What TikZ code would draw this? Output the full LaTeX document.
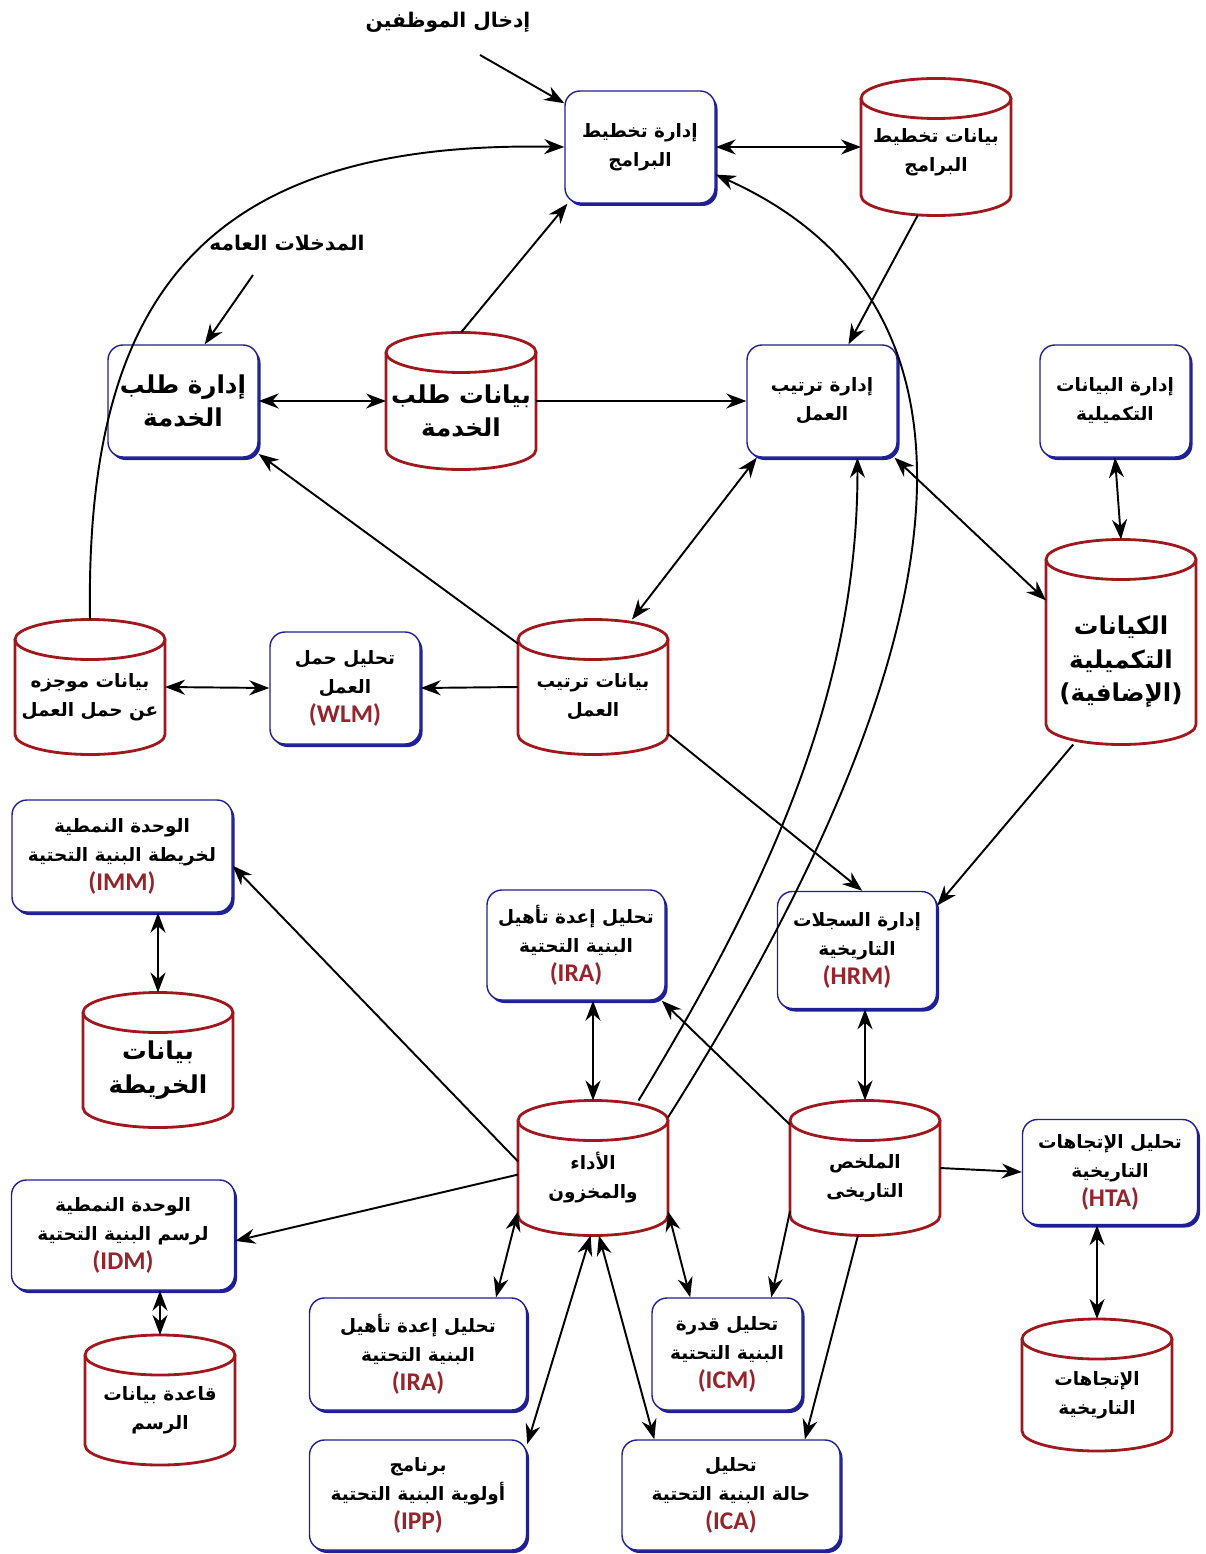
\documentclass[tikz,border=0pt]{standalone}
\usepackage{fontspec}
\usepackage{tikz}
\usetikzlibrary{shapes}
\usetikzlibrary{arrows.meta}
\usetikzlibrary{shadows}
\newfontfamily\arabicfont[Script=Arabic]{DejaVu Sans}
\newfontfamily\abkfont{Carlito}
\TeXXeTstate=1
\definecolor{procblue}{RGB}{32,32,150}
\definecolor{storered}{RGB}{160,24,30}
\definecolor{abkred}{RGB}{150,36,44}
\newcommand{\abk}[1]{{\abkfont\bfseries\fontsize{14.5}{16.5}\selectfont\color{abkred}#1}}
\tikzset{
  proc/.style={rectangle, rounded corners=3mm, draw=procblue, line width=0.8pt, fill=white,
    minimum width=30mm, minimum height=22.4mm, align=center, inner sep=1mm,
    drop shadow={shadow xshift=0.5mm, shadow yshift=-0.6mm, fill=procblue, opacity=1},
    font=\arabicfont\bfseries\fontsize{10.5}{16.5}\selectfont},
  store/.style={rectangle, minimum width=30mm, minimum height=27mm, inner sep=0pt, outer sep=0pt},
  storetext/.style={align=center, yshift=-2mm, inner sep=0pt,
    font=\arabicfont\bfseries\fontsize{10.5}{16.5}\selectfont},
  cylline/.style={draw=storered, line width=1.6pt},
  big/.style={font=\arabicfont\bfseries\fontsize{14}{19}\selectfont},
  lbl/.style={font=\arabicfont\bfseries\fontsize{11.5}{15}\selectfont},
  arr/.style={line width=1.1pt, -{Stealth[length=4mm, width=3mm]}},
  dbl/.style={line width=1.1pt, {Stealth[length=4mm, width=3mm]}-{Stealth[length=4mm, width=3mm]}},
}
\begin{document}
\begin{tikzpicture}[x=0.2mm, y=-0.2mm]
  \useasboundingbox (0,0) rectangle (1205,1554);
  \node[lbl] (staffin) at (448,22) {\beginR إدخال الموظفين\endR};
  \node[lbl] (genin) at (287,243) {\beginR المدخلات العامه\endR};
  \coordinate (staffarrow) at (480,55);
  \coordinate (genarrow) at (253,275);

  \node[proc] (ppm) at (640,147) {\beginR إدارة تخطيط\endR\\\beginR البرامج\endR};
  \node[store, minimum height=27.4mm, label={[storetext, yshift=1mm]center:{\beginR بيانات تخطيط\endR\\\beginR البرامج\endR}}] (ppd) at (936,147) {};
  \node[proc, big] (srm) at (183,401) {\beginR إدارة طلب\endR\\\beginR الخدمة\endR};
  \node[store, minimum height=27.4mm, label={[storetext, big]center:{\beginR بيانات طلب\endR\\\beginR الخدمة\endR}}] (srd) at (461,401) {};
  \node[proc] (ws) at (822,401) {\beginR إدارة ترتيب\endR\\\beginR العمل\endR};
  \node[proc] (supm) at (1115,401) {\beginR إدارة البيانات\endR\\\beginR التكميلية\endR};
  \node[store, minimum height=41mm, label={[storetext, big, yshift=-2mm]center:{\beginR الكيانات\endR\\\beginR التكميلية\endR\\\beginR (الإضافية)\endR}}] (supe) at (1121,642) {};
  \node[store, label={[storetext]center:{\beginR بيانات ترتيب\endR\\\beginR العمل\endR}}] (wsd) at (593,687) {};
  \node[proc] (wlm) at (345,688) {\beginR تحليل حمل\endR\\\beginR العمل\endR\\\abk{(WLM)}};
  \node[store, label={[storetext]center:{\beginR بيانات موجزه\endR\\\beginR عن حمل العمل\endR}}] (wls) at (90,687) {};

  \node[proc, minimum width=44mm] (imm) at (122,856) {\beginR الوحدة النمطية\endR\\\beginR لخريطة البنية التحتية\endR\\\abk{(IMM)}};
  \node[store, label={[storetext, big]center:{\beginR بيانات\endR\\\beginR الخريطة\endR}}] (mapd) at (158,1060) {};
  \node[proc, minimum width=35.6mm, minimum height=22mm] (ira) at (576,945) {\beginR تحليل إعدة تأهيل\endR\\\beginR البنية التحتية\endR\\\abk{(IRA)}};
  \node[proc, minimum width=31.8mm, minimum height=23.4mm] (hrm) at (857,950) {\beginR إدارة السجلات\endR\\\beginR التاريخية\endR\\\abk{(HRM)}};
  \node[store, label={[storetext]center:{\beginR الأداء\endR\\\beginR والمخزون\endR}}] (perf) at (593,1168) {};
  \node[store, label={[storetext]center:{\beginR الملخص\endR\\\beginR التاريخى\endR}}] (hists) at (865,1168) {};
  \node[proc, minimum width=35mm, minimum height=21mm] (hta) at (1110,1172) {\beginR تحليل الإتجاهات\endR\\\beginR التاريخية\endR\\\abk{(HTA)}};
  \node[store, minimum height=26.4mm, label={[storetext]center:{\beginR الإتجاهات\endR\\\beginR التاريخية\endR}}] (htd) at (1097,1385) {};
  \node[proc, minimum width=44.6mm, minimum height=22mm] (idm) at (123,1235) {\beginR الوحدة النمطية\endR\\\beginR لرسم  البنية التحتية\endR\\\abk{(IDM)}};
  \node[store, minimum height=26mm, label={[storetext]center:{\beginR قاعدة بيانات\endR\\\beginR الرسم\endR}}] (drawdb) at (160,1400) {};
  \node[proc, minimum width=43.4mm] (ira2) at (418,1354) {\beginR تحليل إعدة تأهيل\endR\\\beginR البنية التحتية\endR\\\abk{(IRA)}};
  \node[proc] (icm) at (727,1354) {\beginR تحليل قدرة\endR\\\beginR البنية التحتية\endR\\\abk{(ICM)}};
  \node[proc, minimum width=43.4mm, minimum height=22mm] (ipp) at (418,1495) {\beginR برنامج\endR\\\beginR أولوية البنية التحتية\endR\\\abk{(IPP)}};
  \node[proc, minimum width=43.6mm, minimum height=22mm] (ica) at (731,1495) {\beginR تحليل\endR\\\beginR حالة البنية التحتية\endR\\\abk{(ICA)}};

  \foreach \c in {ppd,srd,supe,wsd,wls,mapd,perf,hists,htd,drawdb}{
    \draw[cylline] ([yshift=-4mm]\c.north west) -- ([yshift=4mm]\c.south west)
      arc[start angle=180, end angle=360, x radius=15mm, y radius=4mm]
      -- ([yshift=-4mm]\c.north east);
    \draw[cylline] ([yshift=-4mm]\c.north) ellipse [x radius=15mm, y radius=4mm];
  }

  \draw[arr] (staffarrow) -- (ppm.150);
  \draw[dbl] (ppm.east) -- (ppd.west);
  \draw[arr] (srd.north) -- (ppm.-142);
  \draw[arr] (ppd.-105) -- (ws.65);
  \draw[arr] (genarrow) -- (srm.69);
  \draw[dbl] (srm.east) -- (srd.west);
  \draw[arr] (srd.east) -- (ws.west);
  \draw[arr] (wls.north) .. controls (85,300) and (200,140) .. (ppm.west);
  \draw[arr] (wsd.150) -- (srm.-35);
  \draw[dbl] (wsd.60) -- (ws.-139);
  \draw[dbl] (ws.-38) -- (supe.151);
  \draw[dbl] (supm.south) -- (supe.north);
  \draw[arr] (wsd.west) -- (wlm.east);
  \draw[dbl] (wlm.west) -- (wls.east);
  \draw[arr] (wsd.-32) -- (hrm.85);
  \draw[arr] (supe.-115) -- (hrm.29);
  \draw[arr] (perf.56) .. controls (760,900) and (858,700) .. (ws.-58);
  \draw[arr] (perf.34) .. controls (900,750) and (1060,330) .. (ppm.-20);
  \draw[dbl] (perf.north) -- (perf.north |- ira.south);
  \draw[arr] (perf.175) -- (imm.-5);
  \draw[arr] (perf.185) -- (idm.-3);
  \draw[arr] (hists.150) -- (ira.-33);
  \draw[dbl] (hists.north) -- (hists.north |- hrm.south);
  \draw[arr] (hists.east) -- (hta.west);
  \draw[dbl] (htd.north) -- (htd.north |- hta.south);
  \draw[dbl] (mapd.north) -- (mapd.north |- imm.south);
  \draw[dbl] (drawdb.north) -- (drawdb.north |- idm.south);
  \draw[dbl] (perf.-150) -- (ira2.36);
  \draw[dbl] (perf.-92) -- (ipp.25);
  \draw[dbl] (perf.-85) -- (ica.144);
  \draw[dbl] (perf.-30) -- (icm.123);
  \draw[arr] (hists.-150) -- (icm.52);
  \draw[arr] (hists.-96) -- (ica.37);
\end{tikzpicture}
\end{document}
